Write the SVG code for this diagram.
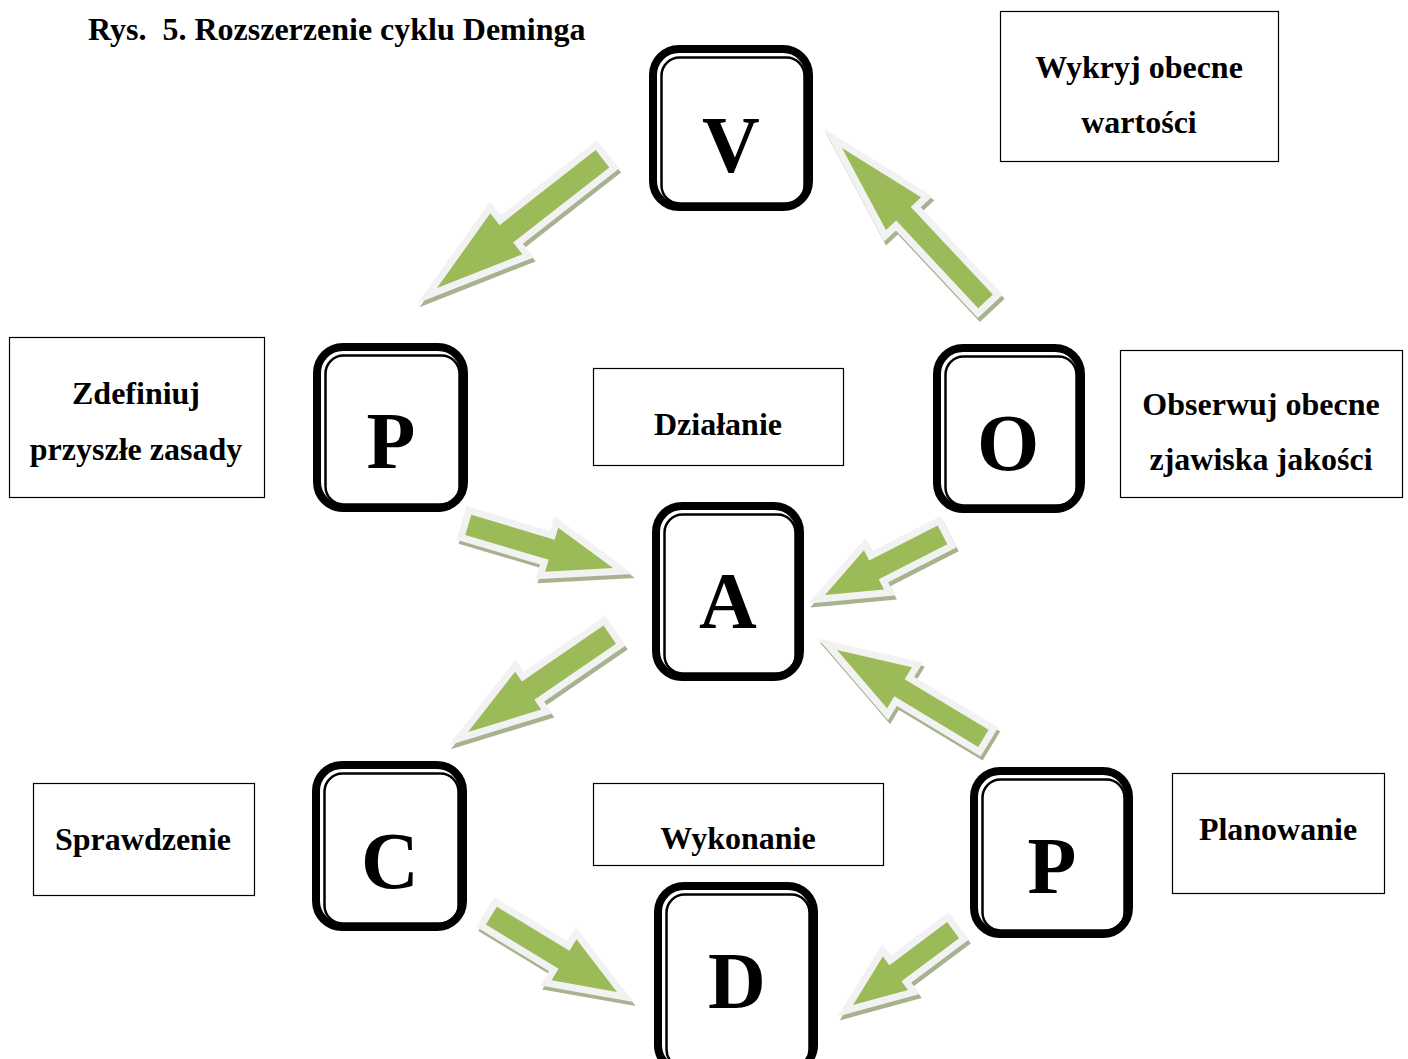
<svg xmlns="http://www.w3.org/2000/svg" width="1408" height="1059" viewBox="0 0 1408 1059">
  <defs>
    <style>
      .title { font-family: "Liberation Serif", "Times New Roman", serif; font-weight: bold; font-size: 32px; fill: #000; white-space: pre; }
      .lbl { font-family: "Liberation Serif", "Times New Roman", serif; font-weight: bold; font-size: 32px; fill: #000; text-anchor: middle; }
      .box { fill: #fff; stroke: #000; stroke-width: 1.2; }
      .outer { fill: #fff; stroke: #000; stroke-width: 8; }
      .inner { fill: none; stroke: #000; stroke-width: 2.5; }
      .letter { font-family: "Liberation Serif", "Times New Roman", serif; font-weight: bold; font-size: 80px; fill: #000; text-anchor: middle; }
      .arrow-shadow { fill: #a7b38f; stroke: #a7b38f; stroke-width: 14; stroke-linejoin: miter; stroke-miterlimit: 10; }
      .arrow-body { fill: #9bbb59; stroke: #f2f2f2; stroke-width: 14; stroke-linejoin: miter; stroke-miterlimit: 10; paint-order: stroke; }
    </style>
  </defs>

  <rect width="1408" height="1059" fill="#fff"/>

  <text class="title" x="88" y="40">Rys.  5. Rozszerzenie cyklu Deminga</text>

  <!-- connectors: block arrows, tip at local origin pointing along +x -->
  <g id="connectors">
    <g id="arrow-v-p" transform="translate(437,288) rotate(142)">
      <path class="arrow-shadow" transform="rotate(-142) translate(2,4) rotate(142)" d="M0,0 L-88,-26 L-88,-11 L-210,-11 L-210,11 L-88,11 L-88,26 Z"/>
      <path class="arrow-body" d="M0,0 L-88,-26 L-88,-11 L-210,-11 L-210,11 L-88,11 L-88,26 Z"/>
    </g>
    <g id="arrow-o-v" transform="translate(842,148) rotate(-133.1)">
      <path class="arrow-shadow" transform="rotate(133.1) translate(2,4) rotate(-133.1)" d="M0,0 L-90,-24 L-90,-10 L-210,-10 L-210,10 L-90,10 L-90,24 Z"/>
      <path class="arrow-body" d="M0,0 L-90,-24 L-90,-10 L-210,-10 L-210,10 L-90,10 L-90,24 Z"/>
    </g>
    <g id="arrow-p-a" transform="translate(613,568) rotate(16.6)">
      <path class="arrow-shadow" transform="rotate(-16.6) translate(2,4) rotate(16.6)" d="M0,0 L-64,-23 L-64,-10.5 L-151,-10.5 L-151,10.5 L-64,10.5 L-64,23 Z"/>
      <path class="arrow-body" d="M0,0 L-64,-23 L-64,-10.5 L-151,-10.5 L-151,10.5 L-64,10.5 L-64,23 Z"/>
    </g>
    <g id="arrow-o-a" transform="translate(825,595) rotate(152.9)">
      <path class="arrow-shadow" transform="rotate(-152.9) translate(2,4) rotate(152.9)" d="M0,0 L-55,-22 L-55,-10.5 L-132,-10.5 L-132,10.5 L-55,10.5 L-55,22 Z"/>
      <path class="arrow-body" d="M0,0 L-55,-22 L-55,-10.5 L-132,-10.5 L-132,10.5 L-55,10.5 L-55,22 Z"/>
    </g>
    <g id="arrow-a-c" transform="translate(468,732) rotate(145.5)">
      <path class="arrow-shadow" transform="rotate(-145.5) translate(2,4) rotate(145.5)" d="M0,0 L-73,-23 L-73,-11 L-172,-11 L-172,11 L-73,11 L-73,23 Z"/>
      <path class="arrow-body" d="M0,0 L-73,-23 L-73,-11 L-172,-11 L-172,11 L-73,11 L-73,23 Z"/>
    </g>
    <g id="arrow-p2-a" transform="translate(837,650) rotate(-148.9)">
      <path class="arrow-shadow" transform="rotate(148.9) translate(2,4) rotate(-148.9)" d="M0,0 L-73,-24 L-73,-10 L-171,-10 L-171,10 L-73,10 L-73,24 Z"/>
      <path class="arrow-body" d="M0,0 L-73,-24 L-73,-10 L-171,-10 L-171,10 L-73,10 L-73,24 Z"/>
    </g>
    <g id="arrow-c-d" transform="translate(617,992) rotate(31.3)">
      <path class="arrow-shadow" transform="rotate(-31.3) translate(2,4) rotate(31.3)" d="M0,0 L-62,-24 L-62,-10.5 L-147,-10.5 L-147,10.5 L-62,10.5 L-62,24 Z"/>
      <path class="arrow-body" d="M0,0 L-62,-24 L-62,-10.5 L-147,-10.5 L-147,10.5 L-62,10.5 L-62,24 Z"/>
    </g>
    <g id="arrow-p2-d" transform="translate(853,1005) rotate(143.2)">
      <path class="arrow-shadow" transform="rotate(-143.2) translate(2,4) rotate(143.2)" d="M0,0 L-53,-21 L-53,-10 L-125,-10 L-125,10 L-53,10 L-53,21 Z"/>
      <path class="arrow-body" d="M0,0 L-53,-21 L-53,-10 L-125,-10 L-125,10 L-53,10 L-53,21 Z"/>
    </g>
  </g>

  <!-- letter nodes: thick rounded frame with a thin inner rule -->
  <g id="node-v">
    <rect class="outer" x="653" y="49" width="156" height="158" rx="26"/>
    <rect class="inner" x="661.5" y="57.5" width="143" height="146" rx="18"/>
    <text class="letter" x="731" y="172">V</text>
  </g>
  <g id="node-p-left">
    <rect class="outer" x="317" y="347" width="147" height="161" rx="26"/>
    <rect class="inner" x="325.5" y="355.5" width="134" height="149" rx="18"/>
    <text class="letter" x="391" y="468">P</text>
  </g>
  <g id="node-o">
    <rect class="outer" x="937" y="348" width="144" height="161" rx="26"/>
    <rect class="inner" x="945.5" y="356.5" width="131" height="149" rx="18"/>
    <text class="letter" x="1008" y="470">O</text>
  </g>
  <g id="node-a">
    <rect class="outer" x="656" y="506" width="144" height="171" rx="26"/>
    <rect class="inner" x="664.5" y="514.5" width="131" height="159" rx="18"/>
    <text class="letter" x="728" y="628">A</text>
  </g>
  <g id="node-c">
    <rect class="outer" x="316" y="765" width="147" height="162" rx="26"/>
    <rect class="inner" x="324.5" y="773.5" width="134" height="150" rx="18"/>
    <text class="letter" x="390" y="888">C</text>
  </g>
  <g id="node-p-right">
    <rect class="outer" x="974" y="771" width="155" height="163" rx="26"/>
    <rect class="inner" x="982.5" y="779.5" width="142" height="151" rx="18"/>
    <text class="letter" x="1052" y="893">P</text>
  </g>
  <g id="node-d">
    <rect class="outer" x="658" y="886" width="156" height="185" rx="26"/>
    <rect class="inner" x="666.5" y="894.5" width="143" height="173" rx="18"/>
    <text class="letter" x="737" y="1008">D</text>
  </g>

  <!-- description boxes -->
  <g id="box-wykryj">
    <rect class="box" x="1000.5" y="11.5" width="278" height="150"/>
    <text class="lbl" x="1139" y="78">Wykryj obecne</text>
    <text class="lbl" x="1139" y="133">wartości</text>
  </g>
  <g id="box-zdefiniuj">
    <rect class="box" x="9.5" y="337.5" width="255" height="160"/>
    <text class="lbl" x="136" y="404">Zdefiniuj</text>
    <text class="lbl" x="136" y="460">przyszłe zasady</text>
  </g>
  <g id="box-dzialanie">
    <rect class="box" x="593.5" y="368.5" width="250" height="97"/>
    <text class="lbl" x="718" y="435">Działanie</text>
  </g>
  <g id="box-obserwuj">
    <rect class="box" x="1120.5" y="350.5" width="282" height="147"/>
    <text class="lbl" x="1261" y="415">Obserwuj obecne</text>
    <text class="lbl" x="1261" y="470">zjawiska jakości</text>
  </g>
  <g id="box-sprawdzenie">
    <rect class="box" x="33.5" y="783.5" width="221" height="112"/>
    <text class="lbl" x="143" y="850">Sprawdzenie</text>
  </g>
  <g id="box-wykonanie">
    <rect class="box" x="593.5" y="783.5" width="290" height="82"/>
    <text class="lbl" x="738" y="849">Wykonanie</text>
  </g>
  <g id="box-planowanie">
    <rect class="box" x="1172.5" y="773.5" width="212" height="120"/>
    <text class="lbl" x="1278" y="840">Planowanie</text>
  </g>
</svg>
